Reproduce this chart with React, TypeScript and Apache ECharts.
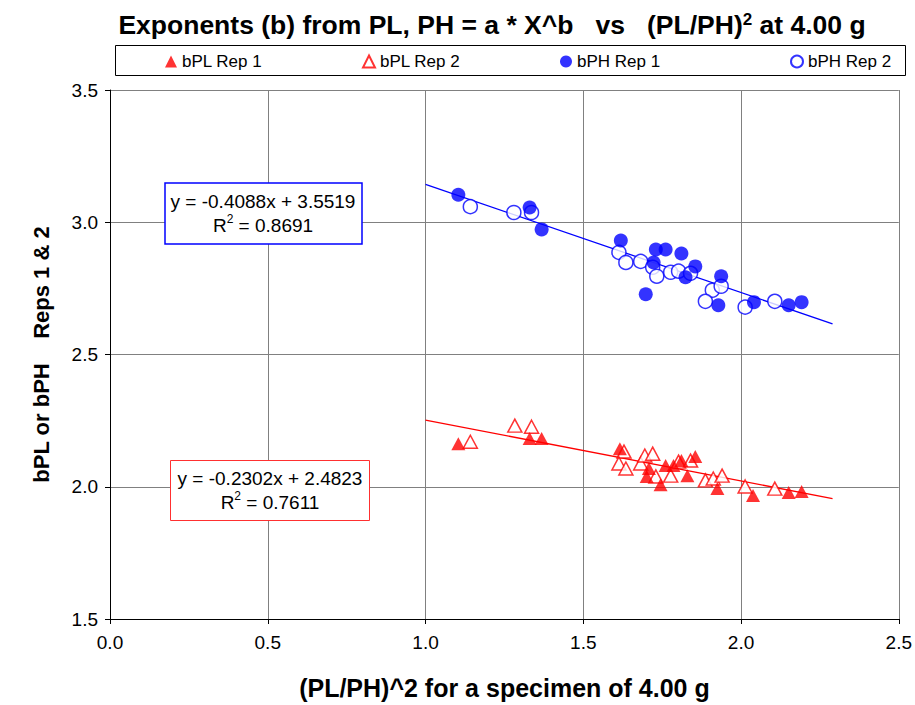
import React, { useEffect, useRef } from "react";
import * as echarts from "echarts";

const plRep1X = [1.104, 1.330, 1.368, 1.616, 1.708, 1.701, 1.745, 1.761, 1.786, 1.811, 1.830, 1.855, 1.925, 2.038, 2.151, 2.192];
const plRep1Y = [2.163, 2.182, 2.182, 2.144, 2.069, 2.039, 2.008, 2.080, 2.080, 2.099, 2.042, 2.114, 1.993, 1.967, 1.978, 1.982];

const plRep2X = [1.142, 1.283, 1.336, 1.629, 1.613, 1.635, 1.682, 1.695, 1.720, 1.730, 1.777, 1.802, 1.840, 1.887, 1.912, 1.940, 2.013, 2.107];
const plRep2Y = [2.170, 2.231, 2.227, 2.133, 2.088, 2.069, 2.088, 2.118, 2.125, 2.039, 2.042, 2.095, 2.099, 2.024, 2.031, 2.042, 2.001, 1.993];

const phRep1X = [1.104, 1.330, 1.368, 1.619, 1.730, 1.761, 1.811, 1.723, 1.855, 1.824, 1.937, 1.928, 1.698, 2.041, 2.151, 2.192];
const phRep1Y = [3.104, 3.056, 2.973, 2.931, 2.897, 2.897, 2.882, 2.848, 2.833, 2.792, 2.796, 2.686, 2.728, 2.698, 2.686, 2.698];

const phRep2X = [1.142, 1.280, 1.336, 1.613, 1.635, 1.682, 1.720, 1.733, 1.777, 1.802, 1.840, 1.909, 1.937, 1.887, 2.013, 2.107];
const phRep2Y = [3.059, 3.037, 3.037, 2.886, 2.848, 2.852, 2.830, 2.796, 2.811, 2.815, 2.807, 2.743, 2.758, 2.701, 2.679, 2.701];

const seriesNames = ["bPL Rep 1", "bPL Rep 2", "bPH Rep 1", "bPH Rep 2"];

// trendlines: y = slope * x + intercept
const phSlope = -0.4088;
const phIntercept = 3.5519;
const phR2 = 0.8691;
const plSlope = -0.2302;
const plIntercept = 2.4823;
const plR2 = 0.7611;
const trendX = [1.0, 2.29];

const xTicks = [0, 0.5, 1.0, 1.5, 2.0, 2.5];
const yTicks = [1.5, 2.0, 2.5, 3.0, 3.5];

const FONT = "'Liberation Sans', Arial, sans-serif";

const zip = (xs: number[], ys: number[]) => xs.map((x, i) => [x, ys[i]]);

export default function App() {
  const ref = useRef<HTMLDivElement>(null);
  useEffect(() => {
    if (!ref.current) return;
    const chart = echarts.init(ref.current, undefined, { renderer: "svg" });
    const red = "#ff0000";
    const blue = "#0000ff";
    const legendPos = [160, 357, 555, 785];
    const supStyle = { fontSize: 12, verticalAlign: "top", lineHeight: 12, padding: [0, 0, 10, 0], fontFamily: FONT, fill: "#000" };
    const option: any = {
      animation: false,
      backgroundColor: "#ffffff",
      textStyle: { fontFamily: FONT },
      title: {
        text: "Exponents (b) from PL, PH = a * X^b   vs   (PL/PH){sup|2} at 4.00 g",
        left: 487,
        textAlign: "center",
        top: 6,
        textStyle: {
          fontFamily: FONT,
          fontSize: 26.5,
          fontWeight: "bold",
          color: "#000",
          rich: {
            sup: { fontSize: 17, fontWeight: "bold", verticalAlign: "top", lineHeight: 17, padding: [0, 0, 14, 0], fontFamily: FONT, color: "#000" },
          },
        },
      },
      legend: seriesNames.map((n, i) => ({
        data: [n],
        left: legendPos[i],
        top: 48,
        itemWidth: 12,
        itemHeight: 12,
        itemGap: 5,
        textStyle: { fontFamily: FONT, fontSize: 17, color: "#000" },
      })),
      grid: { left: 110, right: 10, top: 90, bottom: 84 },
      xAxis: {
        type: "value",
        min: xTicks[0],
        max: xTicks[xTicks.length - 1],
        interval: 0.5,
        name: "(PL/PH)^2 for a specimen of 4.00 g",
        nameLocation: "middle",
        nameGap: 56,
        nameTextStyle: { fontFamily: FONT, fontSize: 25, fontWeight: "bold", color: "#000" },
        axisLine: { lineStyle: { color: "#000", width: 1 } },
        axisTick: { show: true, length: 5, lineStyle: { color: "#000" } },
        axisLabel: { fontFamily: FONT, fontSize: 19, color: "#000", margin: 14, formatter: (v: number) => v.toFixed(1) },
        splitLine: { show: true, lineStyle: { color: "#808080", width: 1 } },
      },
      yAxis: {
        type: "value",
        min: yTicks[0],
        max: yTicks[yTicks.length - 1],
        interval: 0.5,
        name: "bPL or bPH    Reps 1 & 2",
        nameLocation: "middle",
        nameGap: 58,
        nameTextStyle: { fontFamily: FONT, fontSize: 22, fontWeight: "bold", color: "#000" },
        axisLine: { show: true, lineStyle: { color: "#000", width: 1 } },
        axisTick: { show: true, length: 5, lineStyle: { color: "#000" } },
        axisLabel: { fontFamily: FONT, fontSize: 19, color: "#000", margin: 12, formatter: (v: number) => v.toFixed(1) },
        splitLine: { show: true, lineStyle: { color: "#808080", width: 1 } },
      },
      series: [
        {
          name: "PH trend",
          type: "line",
          data: trendX.map((x) => [x, phSlope * x + phIntercept]),
          symbol: "none",
          lineStyle: { color: blue, width: 1.3 },
          z: 1,
          silent: true,
        },
        {
          name: "PL trend",
          type: "line",
          data: trendX.map((x) => [x, plSlope * x + plIntercept]),
          symbol: "none",
          lineStyle: { color: red, width: 1.3 },
          z: 1,
          silent: true,
        },
        {
          name: seriesNames[0],
          type: "scatter",
          data: zip(plRep1X, plRep1Y),
          symbol: "triangle",
          symbolSize: [14, 13],
          itemStyle: { color: red },
          z: 3,
        },
        {
          name: seriesNames[1],
          type: "scatter",
          data: zip(plRep2X, plRep2Y),
          symbol: "triangle",
          symbolSize: [14, 13],
          itemStyle: { color: "#ffffff", borderColor: red, borderWidth: 1.5 },
          z: 2,
        },
        {
          name: seriesNames[2],
          type: "scatter",
          data: zip(phRep1X, phRep1Y),
          symbol: "circle",
          symbolSize: 14,
          itemStyle: { color: blue },
          z: 3,
        },
        {
          name: seriesNames[3],
          type: "scatter",
          data: zip(phRep2X, phRep2Y),
          symbol: "circle",
          symbolSize: 14,
          itemStyle: { color: "#ffffff", borderColor: blue, borderWidth: 1.5 },
          z: 2,
        },
      ],
      graphic: [
        {
          type: "rect",
          shape: { x: 115.5, y: 45.5, width: 790, height: 30 },
          style: { fill: "#fff", stroke: "#000", lineWidth: 1 },
          z: -1,
        },
        {
          type: "rect",
          shape: { x: 165, y: 183, width: 197, height: 61 },
          style: { fill: "#fff", stroke: "#0000ff", lineWidth: 1.5 },
          z: 10,
        },
        {
          type: "text",
          x: 263,
          y: 213,
          z: 11,
          style: {
            text: `y = ${phSlope.toFixed(4)}x + ${phIntercept.toFixed(4)}\nR{sup|2} = ${phR2.toFixed(4)}`,
            align: "center",
            verticalAlign: "middle",
            fontFamily: FONT,
            fontSize: 19,
            lineHeight: 24,
            fill: "#000",
            rich: { sup: supStyle },
          },
        },
        {
          type: "rect",
          shape: { x: 170.5, y: 460.5, width: 199, height: 60 },
          style: { fill: "#fff", stroke: "#ff3030", lineWidth: 1 },
          z: 10,
        },
        {
          type: "text",
          x: 270,
          y: 490,
          z: 11,
          style: {
            text: `y = ${plSlope.toFixed(4)}x + ${plIntercept.toFixed(4)}\nR{sup|2} = ${plR2.toFixed(4)}`,
            align: "center",
            verticalAlign: "middle",
            fontFamily: FONT,
            fontSize: 19,
            lineHeight: 24,
            fill: "#000",
            rich: { sup: supStyle },
          },
        },
      ],
    };
    chart.setOption(option);
    return () => chart.dispose();
  }, []);
  return <div ref={ref} style={{ width: 915, height: 705, position: "absolute", left: 0, top: 0 }} />;
}
